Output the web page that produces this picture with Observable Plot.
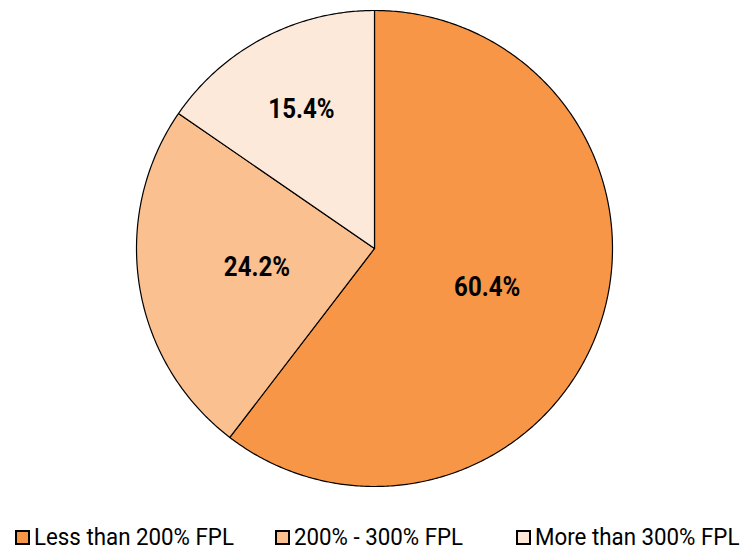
<!DOCTYPE html>
<html><head><meta charset="utf-8">
<script src="https://cdn.jsdelivr.net/npm/d3@7"></script>
<script src="https://cdn.jsdelivr.net/npm/@observablehq/plot@0.6"></script>
<style>
body{margin:0;background:#fff;font-family:Roboto,"Liberation Sans",sans-serif;position:relative;width:746px;height:550px;overflow:hidden;}
#legend{position:absolute;left:0;top:0;font-size:23px;color:#000;}
.item{display:flex;align-items:center;position:absolute;white-space:nowrap;height:23px;}
.sw{width:11px;height:11px;border:2px solid #000;margin-right:4px;flex:none;}
.lt{display:inline-block;transform:scaleX(0.97);transform-origin:left center;line-height:23px;}
</style></head><body>
<div id="chart"></div>
<div id="legend"></div>
<script>
const categories = ["Less than 200% FPL", "200% - 300% FPL", "More than 300% FPL"];
const values = [60.4, 24.2, 15.4];
const colors = ["#F79646", "#FAC090", "#FDE9D9"];

const pie = d3.pie().sort(null).value(d => d)(values);
const poly = [];
pie.forEach((p, i) => {
  poly.push({cat: categories[i], x: 0, y: 0});
  const n = Math.max(2, Math.ceil((p.endAngle - p.startAngle) / 0.01));
  for (let k = 0; k <= n; k++) {
    const a = p.startAngle + (p.endAngle - p.startAngle) * k / n;
    poly.push({cat: categories[i], x: Math.sin(a), y: Math.cos(a)});
  }
});
const labels = pie.map((p, i) => {
  const a = (p.startAngle + p.endAngle) / 2;
  const r = values[i] < 20 ? 0.66 : 0.5;
  return {x: r * Math.sin(a), y: r * Math.cos(a), text: values[i].toFixed(1) + "%"};
});

const plot = Plot.plot({
  width: 746, height: 500,
  margin: 0,
  x: {domain: [-1, 1], range: [136, 612], axis: null},
  y: {domain: [-1, 1], range: [486, 10], axis: null},
  color: {domain: categories, range: colors},
  style: {fontFamily: 'Roboto,"Liberation Sans",sans-serif', background: "#fff"},
  marks: [
    Plot.line(poly, {x: "x", y: "y", z: "cat", fill: "cat", stroke: "#000", strokeWidth: 1.2, curve: "linear-closed"}),
    Plot.text(labels, {x: "x", y: "y", text: "text", fontSize: 28, fontWeight: "bold", fill: "#000"})
  ]
});
document.getElementById("chart").appendChild(plot);
plot.querySelectorAll("text").forEach(t => {
  const tr = t.getAttribute("transform");
  if (tr) {
    t.setAttribute("transform", tr + " scale(0.86,1)");
  } else {
    const x = +t.getAttribute("x") || 0, y = +t.getAttribute("y") || 0;
    t.setAttribute("x", 0); t.setAttribute("y", 0);
    t.setAttribute("transform", `translate(${x},${y}) scale(0.86,1)`);
  }
});

const leg = document.getElementById("legend");
const lefts = [15, 275, 516];
categories.forEach((c, i) => {
  const it = document.createElement("div");
  it.className = "item";
  it.style.left = lefts[i] + "px";
  it.style.top = "526px";
  it.innerHTML = `<span class="sw" style="background:${colors[i]}"></span><span class="lt">${c}</span>`;
  leg.appendChild(it);
});
</script></body></html>
